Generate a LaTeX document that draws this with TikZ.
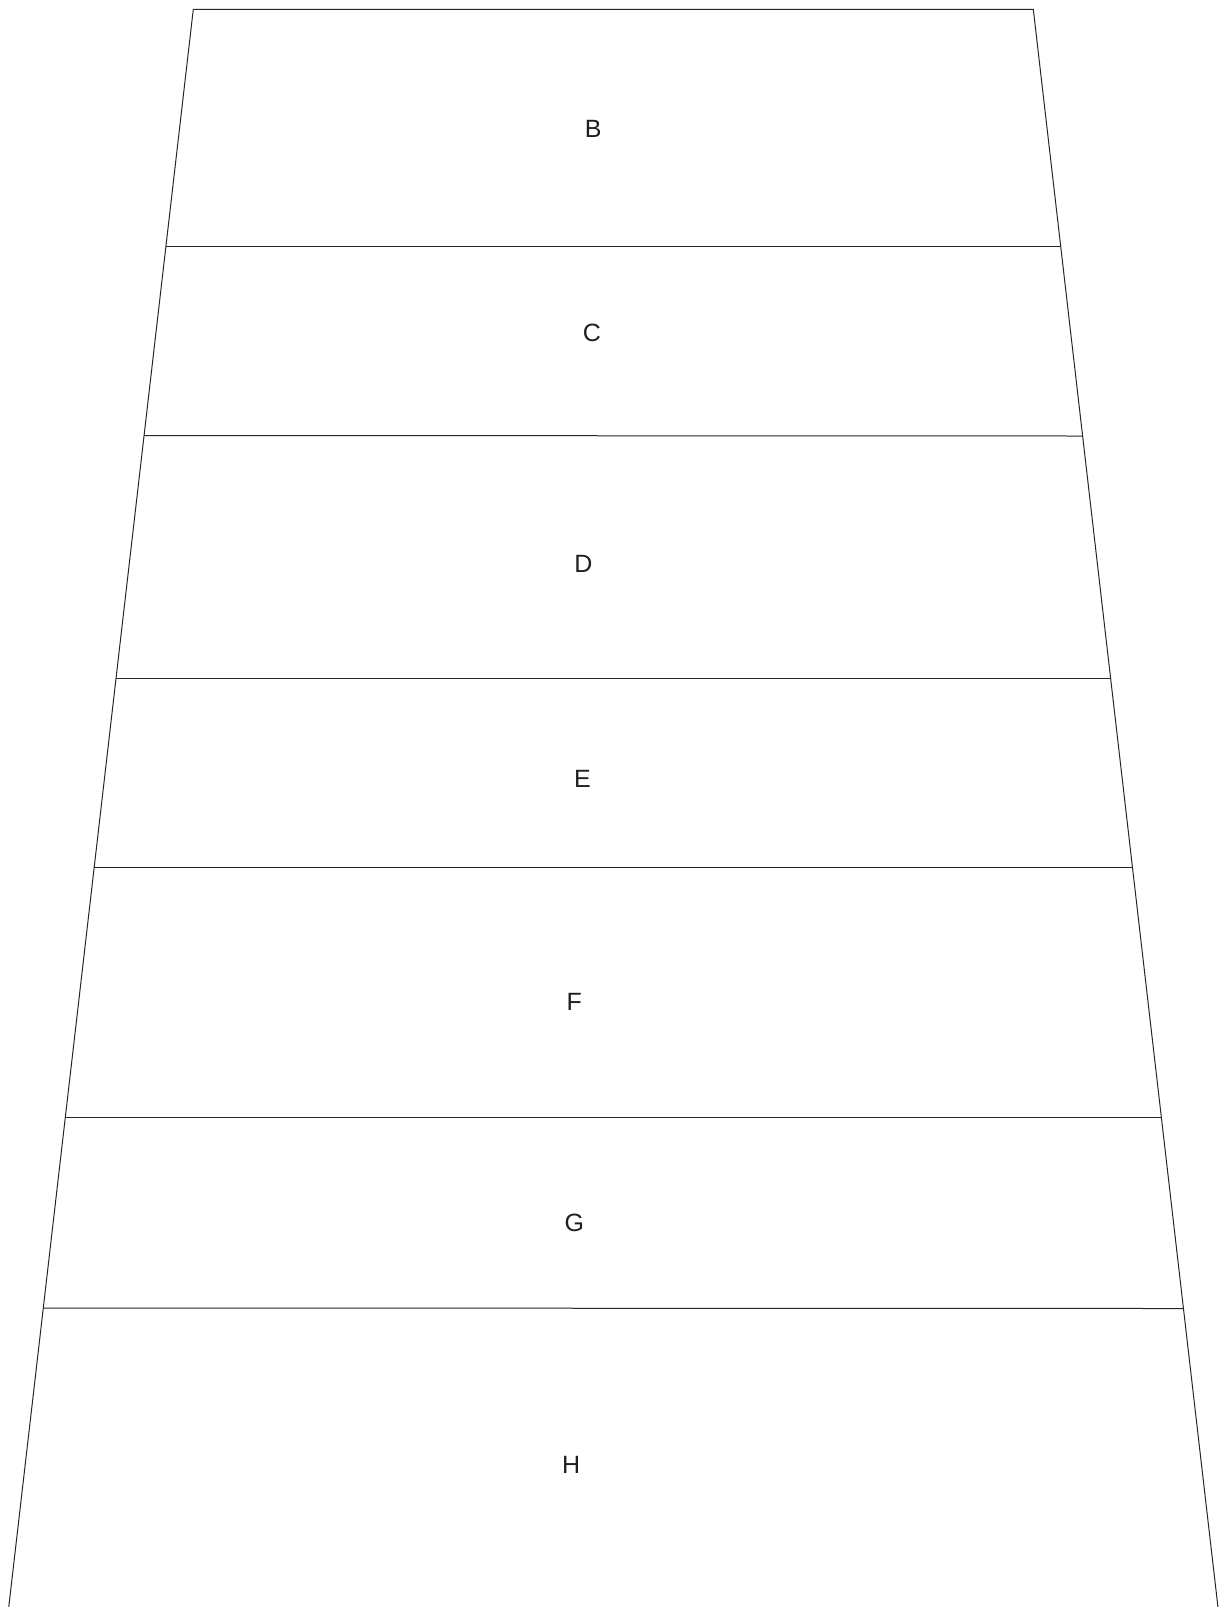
\documentclass[tikz,border=0pt]{standalone}
\usepackage{fontspec}
\setmainfont{Liberation Sans}
\begin{document}
\begin{tikzpicture}[x=1pt,y=-1pt,
  edge/.style={draw=black!85, line width=1pt},
  lbl/.style={font=\fontsize{25}{30}\selectfont, text=black!88, inner sep=0pt}]
\useasboundingbox (0,0) rectangle (1221,1607);
\begin{scope}
\clip (0,0) rectangle (1221,1607);
% outline
\coordinate (tl) at (193.3,9.3);
\coordinate (tr) at (1033.3,9.3);
\coordinate (bl) at (8.7,1607.5);
\coordinate (br) at (1218.0,1607.5);
\draw[edge] (bl) -- (tl) -- (tr) -- (br);
% layer separators
\coordinate (l1) at (165.95,246.0);  \coordinate (r1) at (1060.65,246.0);
\coordinate (l2) at (144.0,435.5);   \coordinate (r2) at (1082.6,436.0);
\coordinate (l3) at (115.96,678.7);  \coordinate (r3) at (1110.64,678.7);
\coordinate (l4) at (94.17,867.3);   \coordinate (r4) at (1132.43,867.3);
\coordinate (l5) at (65.26,1117.5);  \coordinate (r5) at (1161.34,1117.5);
\coordinate (l6) at (43.23,1308.0);  \coordinate (r6) at (1183.37,1308.5);
\foreach \i in {1,...,6} \draw[edge] (l\i) -- (r\i);
\end{scope}
% labels
\node[lbl] (B) at (593.2,129.0) {B};
\node[lbl] (C) at (591.8,333.2) {C};
\node[lbl] (D) at (583.5,563.9) {D};
\node[lbl] (E) at (582.5,779.2) {E};
\node[lbl] (F) at (574.3,1001.6) {F};
\node[lbl] (G) at (574.3,1223.1) {G};
\node[lbl] (H) at (571.2,1465.0) {H};
\end{tikzpicture}
\end{document}
